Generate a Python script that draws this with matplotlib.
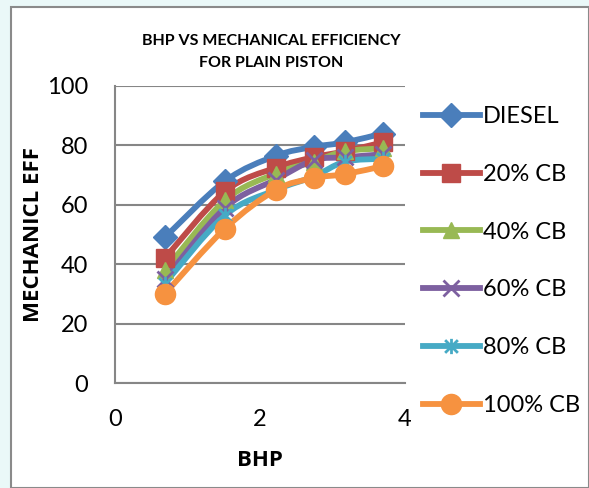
import numpy as np
import matplotlib
matplotlib.use("Agg")
import matplotlib.pyplot as plt
from matplotlib.path import Path
from matplotlib.patches import PathPatch, Rectangle
from matplotlib.lines import Line2D

plt.rcParams['font.family'] = ['Lato', 'DejaVu Sans']

bhp = [0.69, 1.52, 2.22, 2.74, 3.17, 3.69]
series_names = ["DIESEL", "20% CB", "40% CB", "60% CB", "80% CB", "100% CB"]
diesel = [49, 68, 76.5, 79.5, 81, 84]
cb20 = [42, 64.5, 72.5, 76, 78, 81]
cb40 = [38, 61.5, 70.5, 74.5, 78, 79]
cb60 = [35, 59, 68.5, 75, 76, 77]
cb80 = [33.5, 56.5, 65, 69.5, 74.5, 75.5]
cb100 = [30, 52, 65, 69, 70.3, 73]
series = [diesel, cb20, cb40, cb60, cb80, cb100]

colors = ["#4A7EBB", "#BE4B48", "#98B954", "#7D60A0", "#46AAC5", "#F69240"]
star = Path([(-1, -1), (1, 1), (-1, 1), (1, -1), (0, -1.2), (0, 1.2)],
            [Path.MOVETO, Path.LINETO, Path.MOVETO, Path.LINETO, Path.MOVETO, Path.LINETO])
markers = ["D", "s", "^", "x", star, "o"]
msizes = [12, 13, 11, 11, 11, 14.5]
LW = 4.2

fig = plt.figure(figsize=(5.89, 4.88), dpi=100)
fig.patch.set_facecolor("#eaf8f8")
fig.patches.append(Rectangle((11/589, 0), 1 - 11/589, 1 - 7/488, transform=fig.transFigure,
                             facecolor="white", edgecolor="#8a8a8a", linewidth=1.5, zorder=-5))

ax = fig.add_axes([114.7/589, 1 - 383/488, (405 - 114.7)/589, (383 - 86)/488])
ax.set_xlim(0, 4)
ax.set_ylim(0, 100)
ax.set_facecolor("none")


def smooth_path(x, y, t=1/6):
    pts = np.column_stack([x, y])
    n = len(pts)
    verts = [tuple(pts[0])]
    codes = [Path.MOVETO]
    for i in range(n - 1):
        p0 = pts[i - 1] if i > 0 else pts[i]
        p1 = pts[i]
        p2 = pts[i + 1]
        p3 = pts[i + 2] if i + 2 < n else pts[i + 1]
        c1 = p1 + (p2 - p0) * t
        c2 = p2 - (p3 - p1) * t
        verts += [tuple(c1), tuple(c2), tuple(p2)]
        codes += [Path.CURVE4] * 3
    return Path(verts, codes)


def mew_for(m):
    return 2 if (isinstance(m, str) and m == "x") or m is star else 1


for vals, c, m, ms, name in zip(series, colors, markers, msizes, series_names):
    patch = PathPatch(smooth_path(bhp, vals), facecolor="none", edgecolor=c,
                      linewidth=LW, capstyle="round", joinstyle="round", zorder=3)
    ax.add_patch(patch)
    ax.plot(bhp, vals, linestyle="none", marker=m, markersize=ms, color=c,
            markeredgecolor=c, markeredgewidth=mew_for(m), zorder=4)

ax.set_yticks([0, 20, 40, 60, 80, 100])
ax.set_xticks([0, 2, 4])
ax.grid(axis="y", color="#868686", linewidth=1.5)
ax.set_axisbelow(True)
for s in ["top", "right"]:
    ax.spines[s].set_visible(False)
for s in ["left", "bottom"]:
    ax.spines[s].set_color("#868686")
    ax.spines[s].set_linewidth(1.5)
ax.tick_params(axis="both", length=0, labelsize=17)
ax.tick_params(axis="y", pad=19)
ax.tick_params(axis="x", pad=19)

fig.text(271/589, 1 - 41/488, "BHP VS MECHANICAL EFFICIENCY", ha="center", va="center",
         fontsize=11.5, fontweight="bold")
fig.text(271/589, 1 - 63/488, "FOR PLAIN PISTON", ha="center", va="center",
         fontsize=11.5, fontweight="bold")
fig.text(34/589, 1 - 234/488, "MECHANICL EFF", rotation=90, ha="center", va="center",
         fontsize=16, fontweight="bold", family=["Open Sans", "DejaVu Sans"])
fig.text(260/589, 1 - 460/488, "BHP", ha="center", va="center",
         fontsize=16, fontweight="bold", family=["Open Sans", "DejaVu Sans"])

handles = [Line2D([], [], color=c, linewidth=LW, marker=m, markersize=ms,
                  markeredgewidth=mew_for(m))
           for c, m, ms in zip(colors, markers, msizes)]
fig.legend(handles, series_names, loc="upper left", bbox_to_anchor=(423/589, 1 - 106/488),
           frameon=False, fontsize=17, handlelength=2.4, handletextpad=0.13,
           labelspacing=1.56, borderaxespad=0, borderpad=0)

fig.savefig("out.png", dpi=100)
